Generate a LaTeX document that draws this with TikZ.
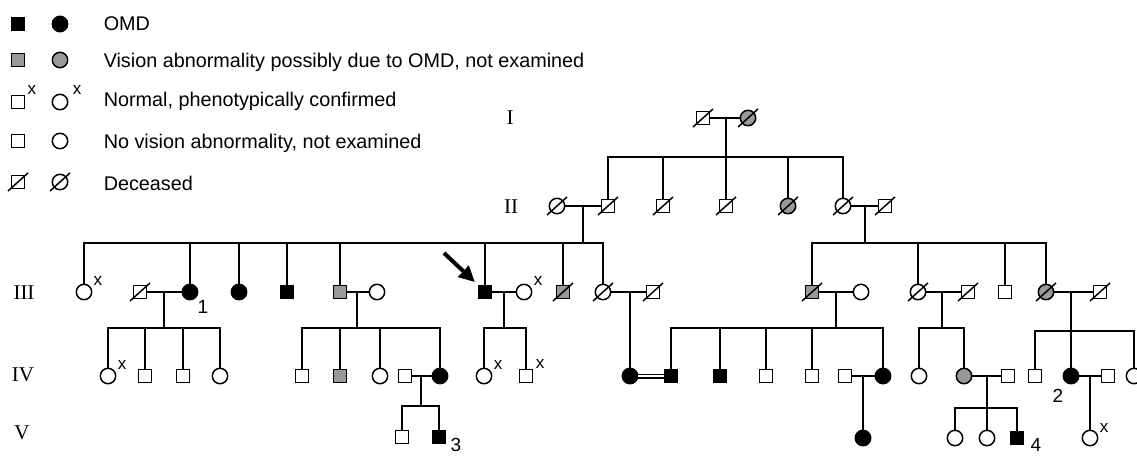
\documentclass[tikz,border=0pt]{standalone}
\usepackage{fontspec}
\setmainfont{Liberation Serif}
\newfontfamily\sansfont{Liberation Sans}
\usepackage{tikz}
\usetikzlibrary{arrows.meta}

% slash through a deceased person
\newcommand{\deceased}[1]{\draw ([shift={(-10,9)}]#1.center) -- ([shift={(10,-9)}]#1.center);}

\begin{document}
\begin{tikzpicture}[x=0.5pt, y=-0.5pt, line width=0.75pt,
    male/.style={draw, rectangle, minimum size=6.4pt, inner sep=0pt, fill=white},
    female/.style={draw, circle, minimum size=7.7pt, inner sep=0pt, fill=white},
    aff/.style={fill=black},
    poss/.style={fill=black!40},
    gen/.style={font=\fontsize{10.5}{12}\selectfont, inner sep=0pt},
    legtext/.style={anchor=base west, inner sep=0pt, font=\sansfont\fontsize{9.9}{12}\selectfont},
    conf/.style={font=\sansfont\fontsize{8.5}{9}\selectfont, inner sep=0pt},
    idlabel/.style={font=\sansfont\fontsize{9.5}{10}\selectfont, inner sep=0pt}]
    \useasboundingbox (0,0) rectangle (1137,456);

    % Legend
    \node[male,aff] (lgA) at (18,24) {};
    \node[female,aff] (lgB) at (60,24) {};
    \node[legtext] (lgtA) at (103,30) {OMD};
    \node[male,poss] (lgC) at (18,60) {};
    \node[female,poss] (lgD) at (60,60) {};
    \node[legtext] (lgtB) at (103,67) {Vision abnormality possibly due to OMD, not examined};
    \node[male] (lgE) at (18,102) {};
    \node[female] (lgF) at (60,102) {};
    \node[conf] (lgxA) at (32,90) {x};
    \node[conf] (lgxB) at (77,90) {x};
    \node[legtext] (lgtC) at (103,106) {Normal, phenotypically confirmed};
    \node[male] (lgG) at (18,141) {};
    \node[female] (lgH) at (60,141) {};
    \node[legtext] (lgtD) at (103,148) {No vision abnormality, not examined};
    \node[male] (lgI) at (18,182) {};
    \node[female] (lgJ) at (60,182) {};
    \node[legtext] (lgtE) at (103,190) {Deceased};

    % Generation labels
    \node[gen] (gI) at (510,118) {I};
    \node[gen] (gII) at (511,207) {II};
    \node[gen] (gIII) at (24,293) {III};
    \node[gen] (gIV) at (23,375) {IV};
    \node[gen] (gV) at (22,433) {V};

    % Generation I
    \node[male] (iA) at (703,118) {};
    \node[female,poss] (iB) at (748,118) {};

    % Generation II
    \node[female] (iiA) at (557,206) {};
    \node[male] (iiB) at (608,206) {};
    \node[male] (iiC) at (663,206) {};
    \node[male] (iiD) at (726,206) {};
    \node[female,poss] (iiE) at (788,206) {};
    \node[female] (iiF) at (843,206) {};
    \node[male] (iiG) at (885,206) {};

    % Generation III
    \node[female] (iiiA) at (84,292) {};
    \node[male] (iiiB) at (140,292) {};
    \node[female,aff] (iiiC) at (190,292) {};
    \node[female,aff] (iiiD) at (239,292) {};
    \node[male,aff] (iiiE) at (287,292) {};
    \node[male,poss] (iiiF) at (340,292) {};
    \node[female] (iiiG) at (377,292) {};
    \node[male,aff] (iiiH) at (485,292) {};
    \node[female] (iiiI) at (524,292) {};
    \node[male,poss] (iiiJ) at (563,292) {};
    \node[female] (iiiK) at (603,292) {};
    \node[male] (iiiL) at (653,292) {};
    \node[male,poss] (iiiM) at (812,292) {};
    \node[female] (iiiN) at (861,292) {};
    \node[female] (iiiO) at (918,292) {};
    \node[male] (iiiP) at (968,292) {};
    \node[male] (iiiQ) at (1005,292) {};
    \node[female,poss] (iiiR) at (1046,292) {};
    \node[male] (iiiS) at (1100,292) {};

    % Generation IV
    \node[female] (ivA) at (108,376) {};
    \node[male] (ivB) at (145,376) {};
    \node[male] (ivC) at (183,376) {};
    \node[female] (ivD) at (220,376) {};
    \node[male] (ivE) at (302,376) {};
    \node[male,poss] (ivF) at (340,376) {};
    \node[female] (ivG) at (380,376) {};
    \node[male] (ivH) at (405,376) {};
    \node[female,aff] (ivI) at (440,376) {};
    \node[female] (ivJ) at (484,376) {};
    \node[male] (ivK) at (526,376) {};
    \node[female,aff] (ivL) at (630,376) {};
    \node[male,aff] (ivM) at (671,376) {};
    \node[male,aff] (ivN) at (720,376) {};
    \node[male] (ivO) at (766,376) {};
    \node[male] (ivP) at (812,376) {};
    \node[male] (ivQ) at (845,376) {};
    \node[female,aff] (ivR) at (883,376) {};
    \node[female] (ivS) at (919,376) {};
    \node[female,poss] (ivT) at (964,376) {};
    \node[male] (ivU) at (1008,376) {};
    \node[male] (ivV) at (1035,376) {};
    \node[female,aff] (ivW) at (1071,376) {};
    \node[male] (ivX) at (1108,376) {};
    \node[female] (ivY) at (1134,376) {};

    % Generation V
    \node[male] (vA) at (402,437) {};
    \node[male,aff] (vB) at (439,437) {};
    \node[female,aff] (vC) at (863,438) {};
    \node[female] (vD) at (955,438) {};
    \node[female] (vE) at (987,438) {};
    \node[male,aff] (vF) at (1017,438) {};
    \node[female] (vG) at (1090,438) {};

    % phenotypically confirmed marks and patient numbers
    \node[conf] (xA) at (98,281) {x};
    \node[conf] (xB) at (538,281) {x};
    \node[conf] (xC) at (122,365) {x};
    \node[conf] (xD) at (498,365) {x};
    \node[conf] (xE) at (540,364) {x};
    \node[conf] (xF) at (1104,428) {x};
    \node[idlabel] (nA) at (203,307) {1};
    \node[idlabel] (nB) at (1058,396) {2};
    \node[idlabel] (nC) at (456,445) {3};
    \node[idlabel] (nD) at (1036,445) {4};

    % Deceased
    \foreach \n in {lgI,lgJ,iA,iB,iiA,iiB,iiC,iiD,iiE,iiF,iiG,iiiB,iiiJ,iiiK,iiiL,iiiM,iiiO,iiiP,iiiR,iiiS}
        {\deceased{\n}}

    % I -> II
    \draw (iA) -- (iB);
    \coordinate (fI) at (726,118);
    \coordinate (sI) at (726,157);
    \draw (fI) -- (sI);
    \foreach \c in {iiB,iiC,iiD,iiE,iiF} \draw (\c) |- (sI);

    % II -> III
    \draw (iiA) -- (iiB);
    \coordinate (fA) at (583,206);
    \coordinate (sA) at (583,243);
    \draw (fA) -- (sA);
    \foreach \c in {iiiA,iiiC,iiiD,iiiE,iiiF,iiiH,iiiJ,iiiK} \draw (\c) |- (sA);
    \draw (iiF) -- (iiG);
    \coordinate (fF) at (865,206);
    \coordinate (sF) at (865,243);
    \draw (fF) -- (sF);
    \foreach \c in {iiiM,iiiO,iiiQ,iiiR} \draw (\c) |- (sF);

    % III -> IV
    \draw (iiiB) -- (iiiC);
    \coordinate (fB) at (164,292);
    \coordinate (sB) at (164,328);
    \draw (fB) -- (sB);
    \foreach \c in {ivA,ivB,ivC,ivD} \draw (\c) |- (sB);
    \draw (iiiF) -- (iiiG);
    \coordinate (fG) at (357,292);
    \coordinate (sG) at (357,328);
    \draw (fG) -- (sG);
    \foreach \c in {ivE,ivF,ivG,ivI} \draw (\c) |- (sG);
    \draw (iiiH) -- (iiiI);
    \coordinate (fH) at (504,292);
    \coordinate (sH) at (504,328);
    \draw (fH) -- (sH);
    \foreach \c in {ivJ,ivK} \draw (\c) |- (sH);
    \draw (iiiK) -- (iiiL);
    \coordinate (fK) at (630,292);
    \draw (fK) -- (ivL);
    \draw (iiiM) -- (iiiN);
    \coordinate (fM) at (836,292);
    \coordinate (sM) at (836,328);
    \draw (fM) -- (sM);
    \foreach \c in {ivM,ivN,ivO,ivP,ivR} \draw (\c) |- (sM);
    \draw (iiiO) -- (iiiP);
    \coordinate (fO) at (942,292);
    \coordinate (sO) at (942,328);
    \draw (fO) -- (sO);
    \foreach \c in {ivS,ivT} \draw (\c) |- (sO);
    \draw (iiiR) -- (iiiS);
    \coordinate (fR) at (1071,292);
    \coordinate (sR) at (1071,331);
    \draw (fR) -- (sR);
    \foreach \c in {ivV,ivW,ivY} \draw (\c) |- (sR);

    % IV -> V
    \draw[double, double distance=1pt] (ivL) -- (ivM);
    \draw (ivH) -- (ivI);
    \coordinate (fI4) at (421,376);
    \coordinate (sI4) at (421,406);
    \draw (fI4) -- (sI4);
    \foreach \c in {vA,vB} \draw (\c) |- (sI4);
    \draw (ivQ) -- (ivR);
    \coordinate (fQ) at (863,376);
    \draw (fQ) -- (vC);
    \draw (ivT) -- (ivU);
    \coordinate (fT) at (987,376);
    \coordinate (sT) at (987,408);
    \draw (fT) -- (sT);
    \foreach \c in {vD,vE,vF} \draw (\c) |- (sT);
    \draw (ivW) -- (ivX);
    \coordinate (fW) at (1090,376);
    \draw (fW) -- (vG);

    % Proband
    \coordinate (arrT) at (444,253);
    \draw[-{Triangle[length=8pt,width=7.5pt]}, line width=2pt, shorten >=2pt] (arrT) -- (iiiH.north west);
\end{tikzpicture}
\end{document}
